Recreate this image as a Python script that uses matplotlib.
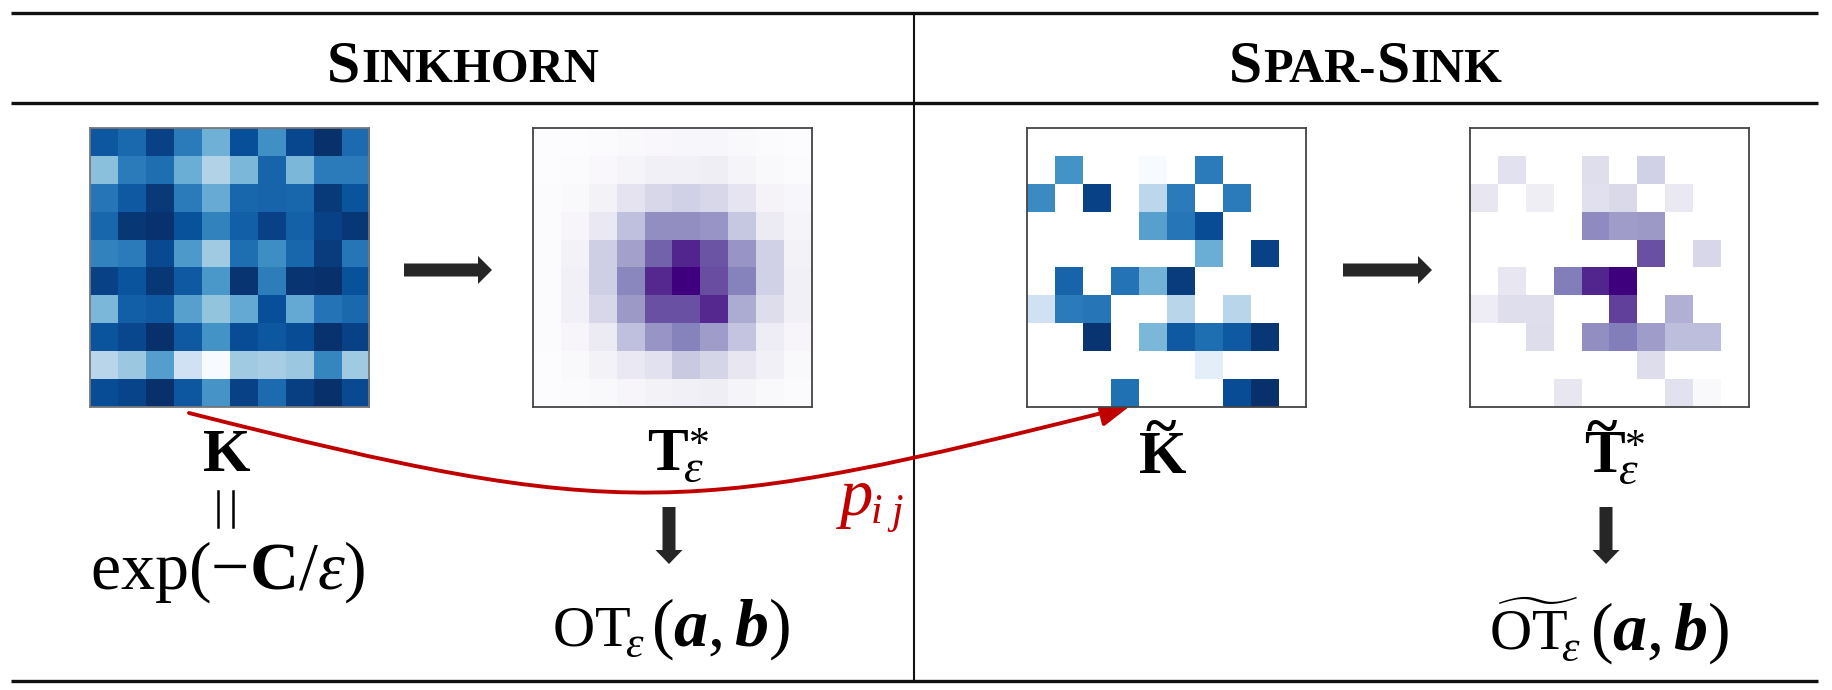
import numpy as np
import matplotlib
matplotlib.use('Agg')
import matplotlib.pyplot as plt
from matplotlib.path import Path
from matplotlib.patches import FancyArrowPatch, Polygon

n = float('nan')
K = [[.85,.78,.93,.71,.49,.88,.63,.91,1.0,.77],
     [.42,.71,.76,.50,.31,.46,.80,.46,.71,.71],
     [.73,.84,.96,.71,.51,.79,.80,.79,.96,.86],
     [.79,.97,.99,.87,.68,.82,.93,.81,.93,.97],
     [.68,.71,.90,.59,.37,.76,.64,.79,.95,.73],
     [.93,.86,.97,.84,.60,.98,.70,.98,1.0,.87],
     [.46,.82,.84,.56,.40,.52,.88,.52,.74,.78],
     [.86,.91,1.0,.84,.62,.89,.85,.89,.99,.93],
     [.29,.38,.57,.20,0,.37,.35,.38,.67,.37],
     [.89,.92,1.0,.85,.61,.93,.77,.94,1.0,.90]]
T = [[0,0,.01,.02,.03,.04,.04,.02,.01,0],
     [0,.01,.03,.06,.09,.10,.11,.06,.02,.01],
     [.01,.02,.08,.19,.26,.29,.26,.18,.07,.04],
     [.01,.05,.15,.36,.55,.55,.52,.33,.14,.06],
     [.01,.08,.30,.48,.70,.88,.74,.52,.29,.08],
     [.01,.10,.30,.58,.87,1,.76,.60,.29,.10],
     [.01,.09,.26,.50,.75,.75,.87,.44,.23,.09],
     [.01,.05,.14,.36,.52,.60,.49,.34,.13,.05],
     [0,.02,.08,.15,.20,.32,.27,.17,.09,.02],
     [0,.01,.02,.05,.08,.10,.11,.06,.02,.01]]
K_sparse = [[n]*10,
     [n,.62,n,n,0,n,.71,n,n,n],
     [.65,n,.93,n,.28,.71,n,.71,n,n],
     [n,n,n,n,.56,.73,.89,n,n,n],
     [n,n,n,n,n,n,.50,n,.93,n],
     [n,.80,n,.74,.48,.95,n,n,n,n],
     [.20,.71,.73,n,n,.29,n,.29,n,n],
     [n,n,.98,n,.46,.84,.76,.84,.97,n],
     [n,n,n,n,n,n,.10,n,n,n],
     [n,n,n,.75,n,n,n,.89,1.0,n]]
T_sparse = [[n]*10,
     [n,.20,n,n,.22,n,.29,n,n,n],
     [.17,n,.11,n,.21,.25,n,.15,n,n],
     [n,n,n,n,.56,.49,.50,n,n,n],
     [n,n,n,n,n,n,.75,n,.26,n],
     [n,.17,n,.62,.88,1.0,n,n,n,n],
     [.13,.22,.22,n,n,.80,n,.42,n,n],
     [n,n,.23,n,.55,.62,.49,.37,.37,n],
     [n,n,n,n,n,n,.23,n,n,n],
     [n,n,n,.17,n,n,n,.20,.02,n]]

W, H = 1832, 690
plt.rcParams['mathtext.fontset'] = 'custom'
plt.rcParams['mathtext.rm'] = 'Liberation Serif'
plt.rcParams['mathtext.it'] = 'Liberation Serif:italic'
plt.rcParams['mathtext.bf'] = 'Liberation Serif:bold'
plt.rcParams['mathtext.bfit'] = 'Liberation Serif:italic:bold'
plt.rcParams['font.family'] = ['Liberation Serif', 'DejaVu Sans']

fig = plt.figure(figsize=(W/100, H/100), dpi=100)
bg = fig.add_axes([0, 0, 1, 1])
bg.set_xlim(0, W); bg.set_ylim(H, 0); bg.axis('off')

for y in (13, 103, 681):
    bg.plot([11, 1818], [y, y], color='#111111', lw=2.4, solid_capstyle='butt')
bg.plot([914, 914], [13, 681], color='#111111', lw=1.5, solid_capstyle='butt')

def heat(data, x0, cmap, edge):
    ax = fig.add_axes([x0/W, 1-407/H, 279/W, 279/H])
    cm = plt.get_cmap(cmap).copy()
    cm.set_bad('white')
    ax.imshow(np.array(data, float), cmap=cm, vmin=0, vmax=1, aspect='auto', interpolation='nearest')
    ax.set_xticks([]); ax.set_yticks([])
    for s in ax.spines.values():
        s.set_color(edge); s.set_linewidth(1.3)

heat(K, 89.5, 'Blues', '#777777')
heat(T, 533, 'Purples', '#444444')
heat(K_sparse, 1027, 'Blues', '#444444')
heat(T_sparse, 1470, 'Purples', '#444444')

def smallcaps(text, x0, y):
    x = x0
    rend = fig.canvas.get_renderer()
    for part, size in text:
        t = bg.text(x, y, part, fontsize=size, fontweight='bold', ha='left', va='baseline', color='black')
        x = bg.transData.inverted().transform(t.get_window_extent(rend).get_points())[1, 0] + 1

smallcaps([('S', 43), ('INKHORN', 35)], 327, 82)
smallcaps([('S', 43), ('PAR-', 35), ('S', 43), ('INK', 35)], 1229, 82)

def block(x0, y0, x1, y1, w=7, hw=14, hl=14):
    d = np.array([x1-x0, y1-y0], float); d /= np.hypot(*d)
    p = np.array([-d[1], d[0]])
    a = np.array([x0, y0]); b = np.array([x1, y1]); c = b - d*hl
    pts = [a+p*w, c+p*w, c+p*hw, b, c-p*hw, c-p*w, a-p*w]
    bg.add_patch(Polygon(pts, closed=True, fc='#262626', ec='none'))

block(404, 270, 492, 270, w=6.5, hw=14, hl=14)
block(1343, 270, 1432, 270, w=6.5, hw=14, hl=14)
block(669, 507, 669, 564, w=6.5, hw=13.5, hl=14)
block(1606, 507, 1606, 564, w=6.5, hw=13.5, hl=14)

def put(x, y, s, size, ha='left', color='black'):
    bg.text(x, y, s, fontsize=size, ha=ha, va='baseline', color=color)

# K and its exponential form
put(227, 471, r'$\mathbf{K}$', 44, 'center')
bg.plot([218, 218], [491, 527], color='black', lw=1.8)
bg.plot([233, 233], [491, 527], color='black', lw=1.8)
put(228, 589, r'$\mathrm{exp}(-\mathbf{C}/\varepsilon)$', 49, 'center')

# T star
put(647, 470, r'$\mathbf{T}$', 44)
put(683, 482, r'$\varepsilon$', 34)
put(689, 456, '*', 30)

# OT
put(552, 646, r'$\mathrm{OT}$', 42)
put(625, 657, r'$\varepsilon$', 32)
put(721, 646, r'$(\mathbfit{a},\mathbfit{b})$', 49, 'center')

# K tilde
put(1163, 473, r'$\mathbf{K}$', 44, 'center')
bg.text(1161, 444, '~', fontsize=42, fontweight='bold', ha='center', va='baseline')

# T tilde star
put(1584, 472, r'$\mathbf{T}$', 44)
bg.text(1602, 444, '~', fontsize=42, fontweight='bold', ha='center', va='baseline')
put(1618, 484, r'$\varepsilon$', 34)
put(1625, 458, '*', 30)

# OT tilde
put(1489, 650, r'$\widetilde{\mathrm{OT}}$', 42)
put(1561, 661, r'$\varepsilon$', 32)
put(1660, 650, r'$(\mathbfit{a},\mathbfit{b})$', 49, 'center')

# p_ij
put(836, 515, r'$p$', 48, color='#c00000')
put(870, 523, r'$i$', 30, color='#c00000')
put(887, 523, r'$j$', 30, color='#c00000')

path = Path([(189, 413), (624, 523), (686, 517), (1130, 406)],
            [Path.MOVETO, Path.CURVE4, Path.CURVE4, Path.CURVE4])
bg.add_patch(FancyArrowPatch(path=path, arrowstyle='-|>,head_length=0.9,head_width=0.4',
                             mutation_scale=20, color='#c00000', lw=2.8, zorder=5))

fig.savefig('out.png', dpi=100)
